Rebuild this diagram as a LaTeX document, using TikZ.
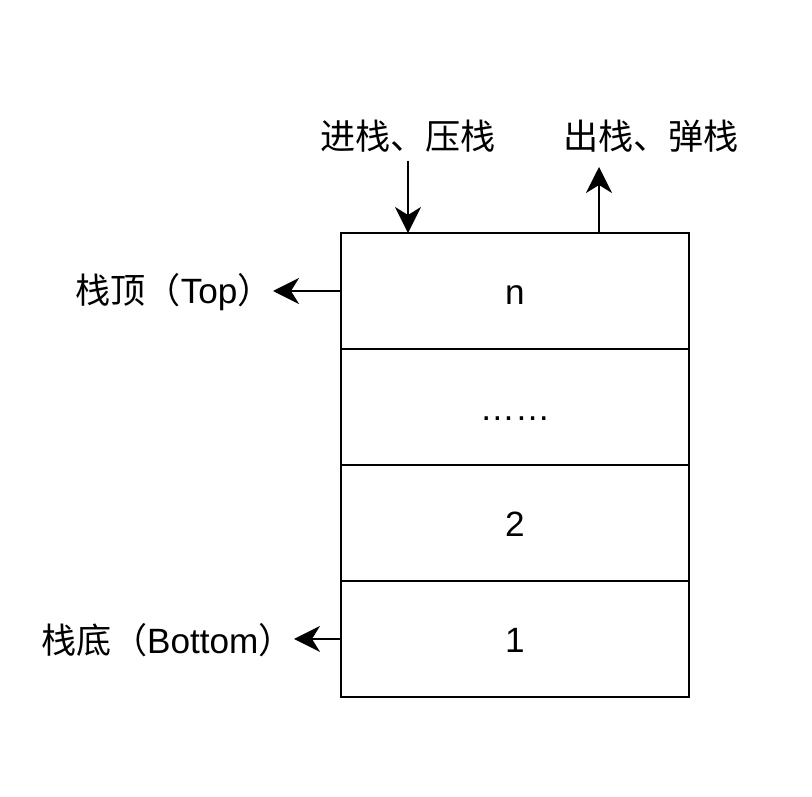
\documentclass[tikz,border=0pt]{standalone}
\usepackage{fontspec}
\setmainfont{Liberation Sans}
\newfontfamily\cjk{Noto Sans CJK SC}
\usetikzlibrary{arrows.meta,positioning}
\begin{document}
\begin{tikzpicture}[x=0.02cm,y=-0.02cm,
  cell/.style={draw,line width=1.3pt,minimum width=6.96cm,minimum height=2.32cm,
    outer sep=0pt,inner sep=0pt,font=\fontsize{20}{24}\selectfont,
    text height=15.9pt,text depth=0pt},
  flow/.style={-{Stealth[length=0.52cm,width=0.52cm,inset=0.16cm]},line width=1.3pt},
  lbl/.style={inner sep=0pt,font=\fontsize{20}{24}\selectfont}
]
  \useasboundingbox (0,0) rectangle (812,797);
  % stack cells
  \node[cell] (top) at (515,291) {n};
  \node[cell,below=0pt of top] (dots) {……};
  \node[cell,below=0pt of dots] (two) {2};
  \node[cell,below=0pt of two] (one) {1};
  % push and pop
  \node[lbl] (pushlbl) at (408,136) {\cjk 进栈、压栈};
  \node[lbl] (poplbl) at (651,136) {\cjk 出栈、弹栈};
  \coordinate (pushtail) at (408,161);
  \coordinate (poptip) at (599,167);
  \draw[flow] (pushtail) -- (pushtail |- top.north);
  \draw[flow] (poptip |- top.north) -- (poptip);
  % top and bottom
  \node[lbl,anchor=east] (toplbl) at (273,292) {\cjk 栈顶（\rmfamily Top\cjk ）};
  \node[lbl,anchor=east] (botlbl) at (294,640) {\cjk 栈底（\rmfamily Bottom\cjk ）};
  \draw[flow] (top.west) -- (top.west -| toplbl.east);
  \draw[flow] (one.west) -- (one.west -| botlbl.east);
\end{tikzpicture}
\end{document}
